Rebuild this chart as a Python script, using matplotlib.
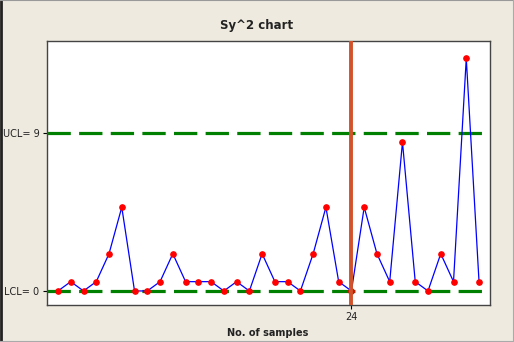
import matplotlib
matplotlib.use("Agg")
import matplotlib.pyplot as plt
from matplotlib.lines import Line2D

samples = list(range(1, 35))
values = [0.0, 0.53, 0.0, 0.53, 2.12, 4.77, 0.0, 0.0, 0.53, 2.12,
          0.53, 0.53, 0.53, 0.0, 0.53, 0.0, 2.12, 0.53, 0.53, 0.0,
          2.12, 4.77, 0.53, 0.0, 4.77, 2.12, 0.53, 8.48, 0.53, 0.0,
          2.12, 0.53, 13.25, 0.53]
ucl = 9
lcl = 0
marker_sample = 24
ytick_labels = ["LCL= 0", "UCL= 9"]

bg = "#EEEAE0"
fig = plt.figure(figsize=(5.14, 3.42), dpi=100, facecolor=bg)
ax = fig.add_axes([46.5/514, 1 - 305/342, (490-46.5)/514, (305-41)/342])
ax.set_facecolor("white")

ax.plot(samples, values, color="blue", lw=0.9, zorder=3)
ax.plot(samples, values, 'o', color="red", ms=3.8, mec="red", zorder=4)
for v in (ucl, lcl):
    ax.axhline(v, color="#008000", lw=2.3, dashes=(7.3, 2.6), zorder=2)
ax.axvline(marker_sample, color="#D2522A", lw=2.8, zorder=5)

ax.set_xlim(0.1, 34.86)
ax.set_ylim(-0.8, 14.24)
ax.set_yticks([lcl, ucl])
ax.set_yticklabels(ytick_labels, fontsize=7, color="#222222")
ax.set_xticks([marker_sample])
ax.set_xticklabels([str(marker_sample)], fontsize=7, color="#222222")
ax.tick_params(length=3, width=0.8, pad=2)
for s in ax.spines.values():
    s.set_color("#444444")
    s.set_linewidth(1.0)

fig.text(257/514, 1 - 25/342, "Sy^2 chart", ha="center", va="center",
         fontsize=8.5, fontweight="bold", color="#222222")
fig.text(268/514, 1 - 333/342, "No. of samples", ha="center", va="center",
         fontsize=7, fontweight="bold", color="#222222")

# window border lines
fig.add_artist(Line2D([0.002, 0.002], [0, 1], transform=fig.transFigure, color="#222222", lw=2))
fig.add_artist(Line2D([0, 1], [0.999, 0.999], transform=fig.transFigure, color="#999999", lw=0.8))
fig.add_artist(Line2D([0.998, 0.998], [0, 1], transform=fig.transFigure, color="#aaaaaa", lw=0.8))
fig.add_artist(Line2D([0, 1], [1 - 341/342, 1 - 341/342], transform=fig.transFigure, color="#aaaaaa", lw=0.8))

fig.savefig("out.png", dpi=100, facecolor=bg)
